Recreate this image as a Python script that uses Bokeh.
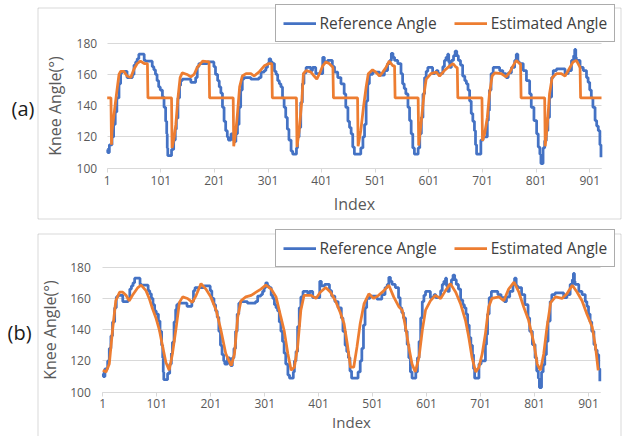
from bokeh.plotting import figure
from bokeh.models import (FixedTicker, Legend, LegendItem, Label, BoxAnnotation,
                          Range1d, LinearAxis, Grid)
from bokeh.layouts import column
from bokeh.embed import file_html
from bokeh.resources import INLINE

FONT = "Open Sans"
BLUE = "#4472C4"
ORANGE = "#ED7D31"

x_ticks = [1, 101, 201, 301, 401, 501, 601, 701, 801, 901]
y_ticks = [100, 120, 140, 160, 180]
series_names = ["Reference Angle", "Estimated Angle"]
panel_labels = ["(a)", "(b)"]
x_title = "Index"
y_title = "Knee Angle(°)"

ref_idx = [1, 2, 5, 8, 10, 13, 16, 19, 23, 26, 29, 35, 38, 44, 48, 51, 54, 57, 60, 66, 70, 73, 82, 85, 88, 91, 94, 97, 100, 104,
           107, 110, 112, 113, 114, 120, 121, 125, 128, 130, 133, 136, 138, 141, 150, 157, 163, 166, 169, 172, 185, 188, 194, 200,
           203, 207, 210, 213, 216, 219, 222, 225, 227, 232, 236, 238, 241, 244, 247, 250, 253, 256, 266, 269, 281, 284, 288, 294,
           297, 300, 303, 306, 309, 313, 316, 319, 322, 325, 328, 331, 334, 337, 340, 344, 347, 353, 354, 356, 359, 362, 365, 368,
           372, 378, 381, 384, 387, 390, 400, 403, 406, 412, 418, 421, 425, 431, 437, 443, 446, 450, 453, 456, 459, 462, 471, 474,
           478, 481, 484, 487, 490, 496, 506, 509, 515, 518, 524, 528, 531, 534, 537, 543, 549, 552, 555, 558, 562, 565, 568, 571,
           574, 580, 581, 584, 587, 590, 593, 596, 599, 605, 608, 612, 615, 618, 624, 627, 630, 633, 636, 638, 640, 643, 647, 650,
           653, 656, 660, 664, 668, 671, 674, 677, 680, 683, 686, 688, 690, 697, 698, 702, 708, 710, 712, 714, 717, 721, 730, 733,
           739, 745, 749, 755, 761, 764, 767, 770, 777, 783, 789, 792, 797, 802, 805, 808, 810, 813, 814, 817, 820, 823, 826, 830,
           833, 839, 851, 855, 861, 867, 871, 873, 875, 876, 883, 889, 895, 898, 901, 904, 907, 911, 914, 917, 920, 922]
ref_val = [112, 110, 115, 115, 120, 128, 136, 145, 154, 161, 162, 162, 158, 158, 160, 166, 168, 170, 173, 173, 169, 168.5, 168.5, 165, 163, 160, 156, 152, 150, 145.5,
           139, 130, 122, 113, 108, 108, 112, 118, 125, 132, 145, 153, 156, 157, 157, 155, 155, 158, 165, 167, 167, 168, 168, 165,
           160, 156, 152, 148, 139, 130, 124, 120, 118, 122, 118, 117, 122, 128, 139, 150, 157, 158, 158, 157, 157, 158, 161.5, 162.5,
           164.5, 167, 170, 168, 167, 162, 160, 156, 154, 152, 145, 139, 132.5, 125, 118, 111, 109, 109, 113, 120, 126, 142, 154, 161,
           164.5, 164.5, 162.5, 164.5, 164.5, 160.5, 160.5, 171, 168, 169, 169, 165, 161.5, 158, 154, 147.5, 139, 130, 126, 122, 113.5, 109, 109, 113,
           120, 128, 143, 154, 160, 161.5, 161.5, 159.5, 159.5, 162.5, 167, 169, 173.5, 171, 169, 167, 160.5, 154, 151, 147.5, 139, 130.5, 122, 113,
           109, 109, 113, 122, 132.5, 147.5, 158, 162, 164.5, 164.5, 160.5, 161, 162.5, 160.5, 160.5, 165, 169, 171, 173, 168, 164.5, 169, 172, 175,
           172, 169, 166, 159, 156, 154, 150, 143, 135, 130, 124, 115, 109, 109, 118, 120, 120, 130.5, 137, 150, 160.5, 164.5, 164.5, 162.5,
           160.5, 158, 161, 164.5, 169, 173, 168, 167, 162.5, 156, 147.5, 139, 130.5, 122, 113.5, 109, 103, 103, 113, 117.5, 124, 132.5, 145.5, 158,
           162.5, 163.5, 163.5, 160.5, 162.5, 169, 172, 176, 171, 169, 164.5, 162.5, 158, 155, 150, 145, 139, 130.5, 127, 124, 115, 107]

est_a_idx = [1, 8, 9, 10, 16, 20, 23, 26, 32, 38, 45, 51, 57, 63, 70, 76, 77, 121, 122, 126, 129, 133, 137, 141, 150, 157, 163, 169, 179,
             191, 192, 236, 237, 241, 244, 248, 253, 260, 269, 275, 284, 294, 303, 308, 309, 354, 355, 359, 364, 367, 372, 381, 387,
             392, 397, 403, 409, 415, 422, 423, 468, 469, 474, 479, 484, 488, 496, 502, 509, 515, 521, 527, 534, 537, 538, 581, 582,
             587, 592, 596, 605, 615, 621, 630, 640, 646, 652, 654, 655, 700, 701, 705, 710, 714, 719, 724, 736, 745, 752, 758, 764,
             770, 772, 773, 817, 818, 822, 826, 831, 839, 848, 855, 861, 870, 876, 883, 884, 923]
est_a_val = [145, 145, 115, 124, 141, 152, 160, 162, 162, 159, 158, 163.5, 167, 168.5, 167, 167, 145, 145, 113, 120, 128, 145, 158, 161, 160, 158.5, 160, 164.5, 168.5,
             168, 145, 145, 114, 124, 135, 152, 159, 160.5, 160.5, 159, 161.5, 165.5, 167, 167, 145, 145, 113.5, 124, 143, 160.5, 162.5, 161.5, 159,
             157, 160.5, 165.5, 168, 167, 164.5, 145, 145, 114, 124, 139, 152, 160.5, 163, 161.5, 159, 161.5, 164.5, 168.5, 165.5, 165.5, 145, 145, 114.5,
             130.5, 147.5, 157, 160.5, 161.5, 159, 162.5, 165.5, 167, 164.5, 164.5, 145, 145, 117.5, 122, 132.5, 147.5, 159, 161, 160.5, 158.5, 161.5, 165.5, 169,
             167, 167, 145, 145, 114, 128, 147.5, 158, 160.5, 160.5, 159, 162.5, 168, 169, 164.5, 145, 145]

est_b_idx = [1, 7, 13, 19, 25, 32, 38, 44, 50, 56, 66, 72, 81, 87, 93, 100, 106, 112, 118, 124, 130, 137, 143, 149, 158, 167, 174, 183,
             192, 201, 211, 220, 229, 239, 245, 251, 257, 266, 276, 285, 294, 303, 313, 322, 331, 337, 344, 350, 356, 362, 368, 374,
             387, 396, 404, 414, 423, 432, 441, 448, 454, 460, 466, 472, 478, 485, 494, 503, 512, 522, 531, 540, 550, 556, 562, 568,
             574, 580, 587, 593, 599, 608, 617, 627, 636, 645, 655, 664, 673, 679, 685, 692, 698, 704, 710, 716, 722, 735, 744, 753,
             763, 772, 781, 790, 800, 806, 812, 818, 824, 831, 840, 852, 861, 871, 880, 889, 898, 908, 914, 919]
est_b_val = [114, 113, 118, 139.5, 158.5, 164, 164, 162, 158.5, 162, 167, 168.5, 165, 160, 153.5, 147, 139.5, 129, 119, 114, 124.5, 141.5, 157.5, 161, 160, 157.5, 162, 169.5,
             166, 161, 152.5, 139.5, 124.5, 117, 124.5, 148, 158.5, 161, 162, 164, 166, 168.5, 166, 161, 148, 139.5, 124.5, 114, 116, 129, 152.5, 162,
             162, 160, 164, 167, 164, 158.5, 151, 144, 131, 116, 116, 129, 144, 156.5, 163, 160, 162, 165, 168.5, 161, 154.5, 152.5, 141.5, 129,
             118, 113, 122.5, 139.5, 152.5, 158.5, 162, 160, 165, 169.5, 164, 156.5, 146, 135.5, 122.5, 113, 116, 124.5, 137.5, 154.5, 160, 161, 158.5, 166,
             170.5, 164, 154.5, 146, 131, 118, 114, 124.5, 141.5, 157.5, 161, 160, 163, 168.5, 164, 158.5, 150, 141.5, 129, 114]

X_FIRST, X_LAST = 1, 923
Y_MIN, Y_MAX = 100, 180


def make_panel(height, x_px0, x_px_per, y_px180, est_idx, est_val, label_text,
               label_xy, legend_top, box_top, tick_standoff_y, title_standoff_y,
               x_label_standoff, x_title_standoff, x_title_size):
    W = 622
    y_px_per = 1.5625
    # ranges chosen so that the frame covers the whole panel canvas
    xs = X_FIRST - x_px0 / x_px_per
    xe = X_FIRST + (W - x_px0) / x_px_per
    ye = Y_MAX + y_px180 / y_px_per
    ys = Y_MAX - (height - y_px180) / y_px_per

    p = figure(width=W, height=height, x_range=Range1d(xs, xe), y_range=Range1d(ys, ye),
               x_axis_type=None, y_axis_type=None,
               min_border=0, min_border_left=0, min_border_right=0,
               min_border_top=0, min_border_bottom=0,
               output_backend="svg", toolbar_location=None,
               background_fill_color="white", border_fill_color="white")
    p.outline_line_color = None

    # gridlines
    gkw = dict(dimension=1, ticker=FixedTicker(ticks=y_ticks), bounds=(Y_MIN, Y_MAX),
               grid_line_color="#d9d9d9", grid_line_width=1)
    if "cross_bounds" in Grid.properties():
        gkw["cross_bounds"] = (X_FIRST, X_LAST)
        p.add_layout(Grid(**gkw))
    else:
        p.segment(x0=[X_FIRST] * len(y_ticks), x1=[X_LAST] * len(y_ticks),
                  y0=y_ticks, y1=y_ticks, line_color="#d9d9d9", line_width=1)

    xaxis = LinearAxis(ticker=FixedTicker(ticks=x_ticks), fixed_location=Y_MIN,
                       bounds=(X_FIRST, X_LAST), axis_label=x_title)
    yaxis = LinearAxis(ticker=FixedTicker(ticks=y_ticks), fixed_location=X_FIRST,
                       bounds=(Y_MIN, Y_MAX), axis_label=y_title)
    for ax in (xaxis, yaxis):
        ax.major_label_text_font = FONT
        ax.major_label_text_font_size = "12px"
        ax.major_label_text_color = "#595959"
        ax.minor_tick_line_color = None
        ax.axis_label_text_font = FONT
        ax.axis_label_text_font_size = "16px"
        ax.axis_label_text_font_style = "normal"
        ax.axis_label_text_color = "#595959"
    xaxis.axis_label_text_font_size = x_title_size
    xaxis.axis_line_color = "#d9d9d9"
    xaxis.major_tick_line_color = "#d9d9d9"
    xaxis.major_tick_out = 4
    xaxis.major_tick_in = 0
    xaxis.major_label_standoff = x_label_standoff
    xaxis.axis_label_standoff = x_title_standoff
    yaxis.axis_line_color = None
    yaxis.major_tick_line_color = None
    yaxis.major_tick_out = 0
    yaxis.major_tick_in = 0
    yaxis.major_label_standoff = tick_standoff_y
    yaxis.axis_label_standoff = title_standoff_y
    p.add_layout(xaxis, "below")
    p.add_layout(yaxis, "left")

    r1 = p.step(ref_idx, ref_val, mode="after", line_color=BLUE, line_width=2.75)
    r2 = p.line(est_idx, est_val, line_color=ORANGE, line_width=2.75)

    # panel border (screen units: pixels from the frame's bottom-left corner)
    p.add_layout(BoxAnnotation(left=37.5, right=620.5, top=height - box_top,
                               bottom=-5 if height < 220 else height - 218.5,
                               left_units="screen", right_units="screen",
                               top_units="screen", bottom_units="screen",
                               fill_color=None, fill_alpha=0,
                               line_color="#808080", line_width=1, level="underlay"))

    legend = Legend(items=[LegendItem(label=series_names[0], renderers=[r1]),
                           LegendItem(label=series_names[1], renderers=[r2])],
                    orientation="horizontal",
                    location=(274.5, height - legend_top - 34),
                    glyph_width=33, glyph_height=20, label_height=20,
                    label_standoff=4, spacing=17, padding=7, margin=0,
                    border_line_color="#595959", border_line_width=1,
                    background_fill_color="white", background_fill_alpha=1,
                    label_text_font=FONT, label_text_font_size="15.5px",
                    label_text_color="#404040")
    p.add_layout(legend)

    p.add_layout(Label(x=label_xy[0], y=height - label_xy[1],
                       x_units="screen", y_units="screen", text=label_text,
                       text_font=FONT, text_font_size="20px", text_color="#1a1a1a",
                       text_baseline="middle", text_align="left"))
    return p


# panel (a): page rows 0..225
pa = make_panel(225, 106.7, (601.0 - 106.7) / (X_LAST - X_FIRST), 42.7,
                est_a_idx, est_a_val, panel_labels[0], (11, 108), 8.0, 7.5, 10, 8,
                4, 4, "16px")
# panel (b): page rows 225..436
pb = make_panel(211, 102.3, (588.0 - 102.3) / (901 - X_FIRST), 41.7,
                est_b_idx, est_b_val, panel_labels[1], (7, 107), 8.0, 8.5, 12, 6,
                3, 0, "15px")

layout = column(pa, pb, spacing=0)
open("out.html", "w").write(file_html(layout, INLINE))
